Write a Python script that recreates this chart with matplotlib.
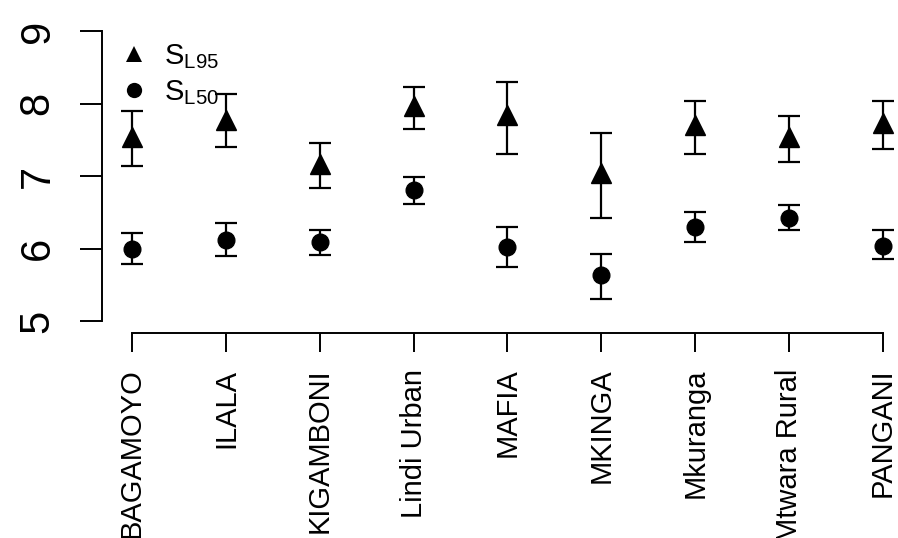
import matplotlib
matplotlib.use("Agg")
import matplotlib.pyplot as plt
from matplotlib.lines import Line2D
import numpy as np

plt.rcParams['font.family'] = ['Liberation Sans', 'DejaVu Sans']
plt.rcParams['mathtext.fontset'] = 'custom'
plt.rcParams['mathtext.rm'] = 'Liberation Sans'

sites = ["BAGAMOYO", "ILALA", "KIGAMBONI", "Lindi Urban", "MAFIA",
         "MKINGA", "Mkuranga", "Mtwara Rural", "PANGANI"]

sl95 = [7.54, 7.77, 7.16, 7.96, 7.84, 7.04, 7.70, 7.54, 7.73]
sl95_lo = [7.14, 7.40, 6.83, 7.65, 7.31, 6.42, 7.31, 7.19, 7.37]
sl95_hi = [7.90, 8.13, 7.46, 8.23, 8.29, 7.60, 8.03, 7.83, 8.03]

sl50 = [6.00, 6.12, 6.09, 6.81, 6.02, 5.63, 6.29, 6.42, 6.04]
sl50_lo = [5.78, 5.89, 5.91, 6.62, 5.74, 5.30, 6.09, 6.25, 5.86]
sl50_hi = [6.22, 6.35, 6.26, 6.98, 6.29, 5.93, 6.50, 6.60, 6.25]

y_ticks = [5, 6, 7, 8, 9]
legend_labels = [r"$\mathregular{S_{L95}}$", r"$\mathregular{S_{L50}}$"]

W, H = 898, 538
fig = plt.figure(figsize=(W / 100, H / 100), dpi=100)
left, right, top, bottom = 102, 913, 19.4, 332.6
ax = fig.add_axes([left / W, 1 - bottom / H, (right - left) / W, (bottom - top) / H])

x = np.arange(1, len(sites) + 1)
a95 = np.array(sl95); a50 = np.array(sl50)
err95 = [a95 - np.array(sl95_lo), np.array(sl95_hi) - a95]
err50 = [a50 - np.array(sl50_lo), np.array(sl50_hi) - a50]

ekw = dict(color='black', ecolor='black', elinewidth=1.6, capsize=8, capthick=1.6,
           linestyle='none', clip_on=False)
ax.errorbar(x, a95, yerr=err95, fmt='^', markersize=14, **ekw)
ax.errorbar(x, a50, yerr=err50, fmt='o', markersize=12, **ekw)

ax.set_xlim(0.68, len(sites) + 0.32)
ax.set_ylim(4.84, 9.16)

for s in ['top', 'right']:
    ax.spines[s].set_visible(False)
ax.spines['left'].set_bounds(5, 9)
ax.spines['bottom'].set_bounds(1, len(sites))
for s in ['left', 'bottom']:
    ax.spines[s].set_linewidth(1.4)

ax.set_yticks(y_ticks)
ax.set_yticklabels([str(v) for v in y_ticks], rotation=90, va='center', fontsize=30)
ax.tick_params(axis='y', length=16, width=1.4, pad=16)
ax.set_xticks(x)
ax.set_xticklabels(sites, rotation=90, fontsize=21)
ax.tick_params(axis='x', length=14, width=1.4, pad=12)

handles = [Line2D([], [], marker='^', color='black', linestyle='none', markersize=12, markeredgewidth=0),
           Line2D([], [], marker='o', color='black', linestyle='none', markersize=11, markeredgewidth=0)]
fig.legend(handles, legend_labels, loc='upper left', bbox_to_anchor=(119 / W, 1 - 42 / H),
           frameon=False, fontsize=21, handlelength=1.0, handletextpad=0.55,
           borderpad=0, borderaxespad=0, labelspacing=0.25)

fig.savefig("out.png", dpi=100)
